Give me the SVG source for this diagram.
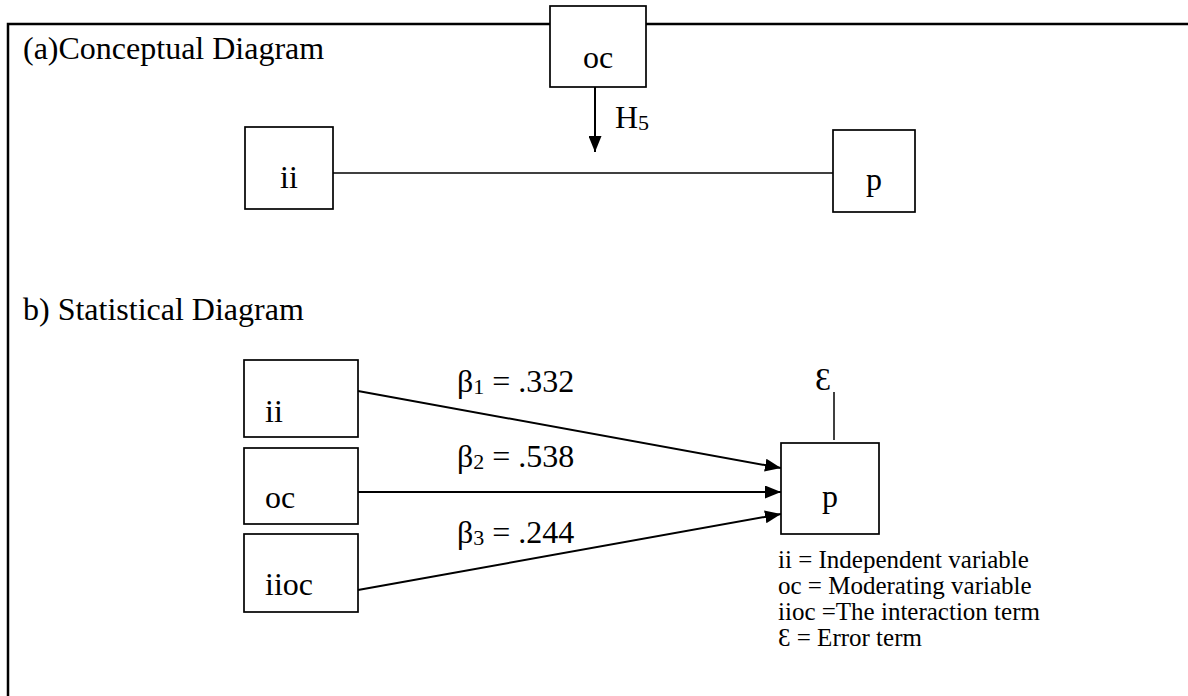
<svg xmlns="http://www.w3.org/2000/svg" width="1188" height="696" viewBox="0 0 1188 696">
  <style>
    text { font-family: "Liberation Serif", "Times New Roman", "DejaVu Serif", serif; fill: #000; }
    .big { font-size: 32px; }
    .legend { font-size: 25px; }
    .sub { font-size: 22px; }
    .box { fill: #fff; stroke: #000; stroke-width: 1.7; }
    .frame { fill: none; stroke: #000; stroke-width: 2.5; }
    .link { fill: none; stroke: #000; stroke-width: 1.5; }
    .arrow { fill: none; stroke: #000; stroke-width: 2; }
  </style>
  <defs>
    <marker id="head" viewBox="0 0 16 13" refX="16" refY="6.5" markerUnits="userSpaceOnUse" markerWidth="16" markerHeight="13" orient="auto">
      <path d="M0,0 L16,6.5 L0,13 Z" fill="#000"/>
    </marker>
  </defs>

  <rect width="1188" height="696" fill="#fff"/>

  <!-- outer frame (left and top edges) -->
  <path class="frame" d="M8,696 V24 H1188"/>

  <!-- section titles -->
  <text class="big" x="23" y="59">(a)Conceptual Diagram</text>
  <text class="big" x="23" y="320">b) Statistical Diagram</text>

  <!-- connectors -->
  <g id="connectors">
    <line class="link" x1="333" y1="173" x2="833" y2="173"/>
    <line class="arrow" x1="595" y1="87" x2="595" y2="152" marker-end="url(#head)"/>
    <line class="arrow" x1="358" y1="391" x2="781" y2="468" marker-end="url(#head)"/>
    <line class="arrow" x1="358" y1="492" x2="781" y2="492" marker-end="url(#head)"/>
    <line class="arrow" x1="358" y1="590" x2="781" y2="514" marker-end="url(#head)"/>
    <line class="link" x1="834" y1="392" x2="834" y2="440"/>
  </g>

  <!-- connector labels -->
  <g id="labels">
    <text class="big" x="615" y="128">H<tspan class="sub" dy="2">5</tspan></text>
    <text class="big" x="457" y="392">β<tspan class="sub" dy="2">1</tspan><tspan dy="-2"> = .332</tspan></text>
    <text class="big" x="457" y="467">β<tspan class="sub" dy="2">2</tspan><tspan dy="-2"> = .538</tspan></text>
    <text class="big" x="457" y="543">β<tspan class="sub" dy="2">3</tspan><tspan dy="-2"> = .244</tspan></text>
    <text class="big" x="815" y="390">Ɛ</text>
  </g>

  <!-- conceptual diagram nodes -->
  <g id="node-oc-top">
    <rect class="box" x="550" y="6" width="96" height="81"/>
    <text class="big" x="598" y="68" text-anchor="middle">oc</text>
  </g>
  <g id="node-ii-top">
    <rect class="box" x="245" y="127" width="88" height="82"/>
    <text class="big" x="280" y="188">ii</text>
  </g>
  <g id="node-p-top">
    <rect class="box" x="833" y="130" width="82" height="82"/>
    <text class="big" x="866" y="190">p</text>
  </g>

  <!-- statistical diagram nodes -->
  <g id="node-ii">
    <rect class="box" x="244" y="360" width="114" height="77"/>
    <text class="big" x="265" y="422">ii</text>
  </g>
  <g id="node-oc">
    <rect class="box" x="244" y="448" width="114" height="76"/>
    <text class="big" x="265" y="508">oc</text>
  </g>
  <g id="node-iioc">
    <rect class="box" x="244" y="534" width="114" height="78"/>
    <text class="big" x="265" y="595">iioc</text>
  </g>
  <g id="node-p">
    <rect class="box" x="781" y="443" width="98" height="91"/>
    <text class="big" x="822" y="507">p</text>
  </g>

  <!-- key -->
  <g id="legend">
    <text class="legend" x="778" y="568">ii = Independent variable</text>
    <text class="legend" x="778" y="594">oc = Moderating variable</text>
    <text class="legend" x="778" y="620">iioc =The interaction term</text>
    <text class="legend" x="778" y="646">Ɛ = Error term</text>
  </g>
</svg>
